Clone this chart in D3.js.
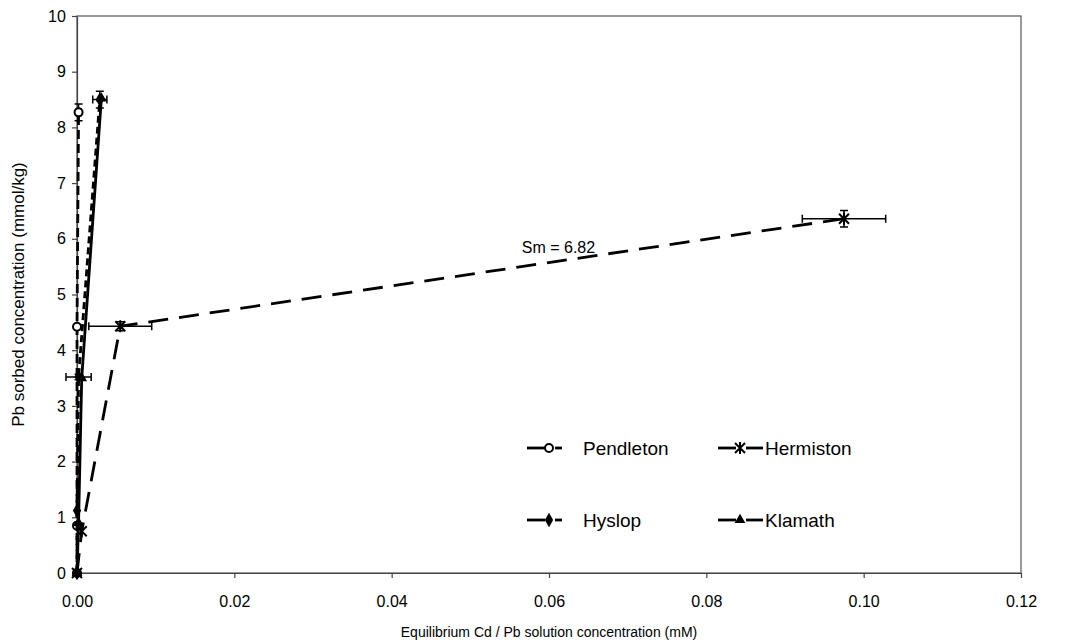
<!DOCTYPE html>
<html><head><meta charset="utf-8">
<script src="https://cdn.jsdelivr.net/npm/d3@7"></script>
<style>body{margin:0;background:#fff} text{font-family:"Liberation Sans",Arial,sans-serif;fill:#000}</style>
</head><body><svg id="c" width="1082" height="643"></svg>
<script>
// ---- data ----
const xTickValues = [0, 0.02, 0.04, 0.06, 0.08, 0.10, 0.12];
const yTickValues = [0, 1, 2, 3, 4, 5, 6, 7, 8, 9, 10];
const seriesNames = ["Pendleton", "Hermiston", "Hyslop", "Klamath"];

const pendletonX    = [0, 0, 0, 0.0002];
const pendletonY    = [0, 0.85, 4.42, 8.27];
const pendletonXErr = [0, 0, 0, 0.0003];
const pendletonYErr = [0, 0, 0, 0.15];

const hermistonX    = [0, 0.0006, 0.0055, 0.0975];
const hermistonY    = [0, 0.75, 4.43, 6.36];
const hermistonXErr = [0, 0, 0.004, 0.0053];
const hermistonYErr = [0, 0, 0.08, 0.15];

const hyslopX    = [0, 0, 0.0002, 0.0029];
const hyslopY    = [0, 1.12, 3.52, 8.5];
const hyslopXErr = [0, 0, 0.0016, 0.0009];
const hyslopYErr = [0, 0, 0.05, 0.15];

const klamathX    = [0, 0.0002, 0.0006, 0.0031];
const klamathY    = [0, 0.9, 3.5, 8.52];
const klamathXErr = [0, 0, 0, 0];
const klamathYErr = [0, 0, 0, 0];

const annotationText = "Sm = 6.82";
const annotationX = 0.0612, annotationY = 5.85;

// ---- layout ----
const svg = d3.select("#c");
const L = 77, R = 1021, T = 16, B = 573;
const x = d3.scaleLinear().domain([0, 0.12]).range([L, R]);
const y = d3.scaleLinear().domain([0, 10]).range([B, T]);

// plot border
svg.append("rect").attr("x", L).attr("y", T).attr("width", R - L).attr("height", B - T)
  .attr("fill", "none").attr("stroke", "#555").attr("stroke-width", 1.2);

// axes
const xAxis = d3.axisBottom(x).tickValues(xTickValues).tickFormat(d3.format(".2f")).tickSize(5).tickSizeOuter(0);
const gx = svg.append("g").attr("transform", `translate(0,${B})`).call(xAxis);
gx.selectAll("text").attr("font-size", 16).attr("y", 23).attr("dy", "0.71em");
const yAxis = d3.axisLeft(y).tickValues(yTickValues).tickFormat(d3.format("d")).tickSize(5).tickSizeOuter(0);
const gy = svg.append("g").attr("transform", `translate(${L},0)`).call(yAxis);
gy.selectAll("text").attr("font-size", 16).attr("dx", "-0.2em");
[gx, gy].forEach(g => {
  g.select(".domain").attr("stroke", "#444").attr("stroke-width", 1.2);
  g.selectAll(".tick line").attr("stroke", "#444").attr("stroke-width", 1.2);
  g.selectAll("text").style("font-family", '"Liberation Sans",Arial,sans-serif').attr("fill", "#000");
});

svg.append("text").attr("x", (L + R) / 2).attr("y", 637).attr("text-anchor", "middle")
  .attr("font-size", 14).text("Equilibrium Cd / Pb solution concentration (mM)");
svg.append("text").attr("transform", `translate(24,${(T + B) / 2}) rotate(-90)`).attr("text-anchor", "middle")
  .attr("font-size", 17).text("Pb sorbed concentration (mmol/kg)");

// ---- series ----
function pts(xs, ys, xe, ye) { return xs.map((v, i) => ({ x: v, y: ys[i], xe: xe[i], ye: ye[i] })); }
const series = [
  { name: seriesNames[0], data: pts(pendletonX, pendletonY, pendletonXErr, pendletonYErr), dash: "9,5", marker: "circle" },
  { name: seriesNames[1], data: pts(hermistonX, hermistonY, hermistonXErr, hermistonYErr), dash: "20,11", marker: "asterisk" },
  { name: seriesNames[2], data: pts(hyslopX, hyslopY, hyslopXErr, hyslopYErr), dash: "7,4", marker: "diamond" },
  { name: seriesNames[3], data: pts(klamathX, klamathY, klamathXErr, klamathYErr), dash: null, marker: "triangle" }
];

const line = d3.line().x(d => x(d.x)).y(d => y(d.y));

function drawMarker(g, type, cx, cy) {
  if (type === "circle") {
    g.append("circle").attr("cx", cx).attr("cy", cy).attr("r", 4).attr("fill", "#fff").attr("stroke", "#000").attr("stroke-width", 2);
  } else if (type === "diamond") {
    g.append("path").attr("d", d3.symbol(d3.symbolDiamond, 60)()).attr("transform", `translate(${cx},${cy})`).attr("fill", "#000");
  } else if (type === "triangle") {
    g.append("path").attr("d", d3.symbol(d3.symbolTriangle, 50)()).attr("transform", `translate(${cx},${cy})`).attr("fill", "#000");
  } else if (type === "asterisk") {
    const s = 5;
    const p = `M${cx - s},${cy - s}L${cx + s},${cy + s}M${cx - s},${cy + s}L${cx + s},${cy - s}M${cx},${cy - s - 1}L${cx},${cy + s + 1}`;
    g.append("path").attr("d", p).attr("stroke", "#000").attr("stroke-width", 2).attr("fill", "none");
  }
}

series.forEach(s => {
  const g = svg.append("g");
  g.append("path").datum(s.data).attr("d", line).attr("fill", "none").attr("stroke", "#000")
    .attr("stroke-width", 2.8).attr("stroke-dasharray", s.dash);
  s.data.forEach(d => {
    const cap = 4;
    if (d.xe > 0) {
      const x0 = x(d.x - d.xe), x1 = x(d.x + d.xe), cy = y(d.y);
      g.append("path").attr("d", `M${x0},${cy}H${x1}M${x0},${cy - cap}V${cy + cap}M${x1},${cy - cap}V${cy + cap}`)
        .attr("stroke", "#000").attr("stroke-width", 1.5).attr("fill", "none");
    }
    if (d.ye > 0) {
      const y0 = y(d.y - d.ye), y1 = y(d.y + d.ye), cx = x(d.x);
      g.append("path").attr("d", `M${cx},${y0}V${y1}M${cx - cap},${y0}H${cx + cap}M${cx - cap},${y1}H${cx + cap}`)
        .attr("stroke", "#000").attr("stroke-width", 1.5).attr("fill", "none");
    }
  });
  s.data.forEach(d => drawMarker(g, s.marker, x(d.x), y(d.y)));
});

// annotation
svg.append("text").attr("x", x(annotationX)).attr("y", y(annotationY)).attr("dy", "0.35em").attr("text-anchor", "middle")
  .attr("font-size", 16).text(annotationText);

// ---- legend ----
const legendPos = [[527, 448], [718, 448], [527, 520], [718, 520]];
series.forEach((s, i) => {
  const [lx, ly] = legendPos[i];
  const g = svg.append("g");
  const mid = lx + 22;
  const shortRight = s.dash && s.marker !== "asterisk";
  const rightLen = shortRight ? 7 : 17;
  g.append("line").attr("x1", lx).attr("x2", mid - 4).attr("y1", ly).attr("y2", ly).attr("stroke", "#000").attr("stroke-width", 2.8);
  g.append("line").attr("x1", mid + 6).attr("x2", mid + 6 + rightLen).attr("y1", ly).attr("y2", ly).attr("stroke", "#000").attr("stroke-width", 2.8);
  drawMarker(g, s.marker, mid, ly);
  const tx = shortRight ? lx + 56 : lx + 47;
  g.append("text").attr("x", tx).attr("y", ly).attr("dy", "0.35em").attr("font-size", 19).text(s.name);
});
</script></body></html>
